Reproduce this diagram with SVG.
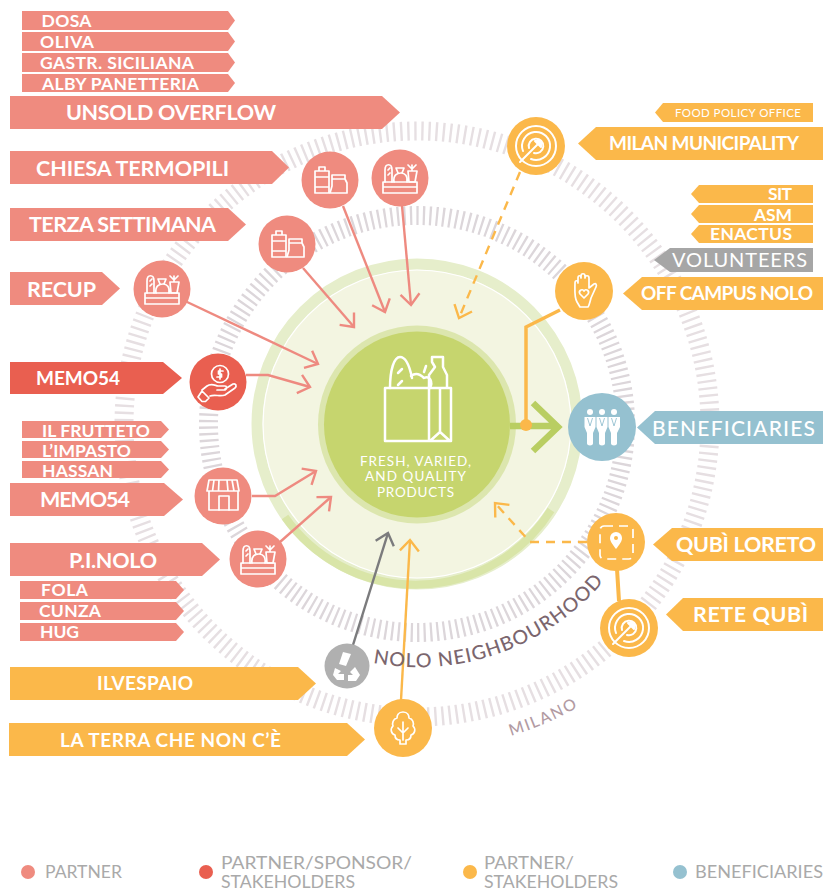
<svg xmlns="http://www.w3.org/2000/svg" xmlns:xlink="http://www.w3.org/1999/xlink" width="823" height="888" viewBox="0 0 823 888">
<style>
text{font-family:Lato,"Liberation Sans",sans-serif}
.pk{fill:#ef8b7f}.rd{fill:#e95f50}.yl{fill:#fbb84a}.bl{fill:#95c1d0}.gy{fill:#a6a6a6}.lg{fill:#b0b0b0}
.t{fill:#fff;font-weight:700}
.t17{font-size:17.500px}.t21{font-size:19px}.t23{font-size:21.500px}
.r{fill:#fff;font-weight:400}
.leg{fill:#a9a9a9;font-size:17px;font-weight:400}
.ic{fill:none;stroke:#fff;stroke-width:1.7;stroke-linejoin:round;stroke-linecap:round}
.ln{fill:none;stroke-width:2.4}
.cp{stroke:#ee8a80}.cy{stroke:#fbb84a}.cg{stroke:#7b7b7d}
.hp{marker-end:url(#mp)}.hy{marker-end:url(#my)}.hg{marker-end:url(#mg)}
.ds{stroke-dasharray:9 7}
</style>
<defs>
<marker id="mp" markerUnits="userSpaceOnUse" markerWidth="30" markerHeight="30" viewBox="-15 -15 30 30" refX="0" refY="0" orient="auto"><path d="M-11,-9.5 L0,0 L-11,9.5" fill="none" stroke="#ee8a80" stroke-width="2.4"/></marker>
<marker id="my" markerUnits="userSpaceOnUse" markerWidth="30" markerHeight="30" viewBox="-15 -15 30 30" refX="0" refY="0" orient="auto"><path d="M-11,-9.5 L0,0 L-11,9.5" fill="none" stroke="#fbb84a" stroke-width="2.4"/></marker>
<marker id="mg" markerUnits="userSpaceOnUse" markerWidth="30" markerHeight="30" viewBox="-15 -15 30 30" refX="0" refY="0" orient="auto"><path d="M-11,-9.5 L0,0 L-11,9.5" fill="none" stroke="#7b7b7d" stroke-width="2.4"/></marker>
<g id="crate" class="ic"><path d="M-17,4H17V15H-17ZM-17,9H17"/><path d="M-15,4V-8C-15,-15 -8,-15 -8,-8V4"/><path d="M-12,-8L-10,-10M-12,-3L-10,-5"/><path d="M-6,4C-7,-3 -3,-5 1,-5C5,-5 8,-2 7,4M-2,-5L-4,-10H4L2,-5"/><path d="M8,-7H17L15,4H9ZM12,-7V-13M12,-9L8,-13M12,-9L16,-13"/></g>
<g id="jars" class="ic"><path d="M-15,-9H-1V13H-15ZM-15,-3H-1M-15,7H-1M-11,-9V-13H-5V-9"/><path d="M2,-5H15V-1L17,3V13H0L2,6V-1ZM2,-1H15"/></g>
<g id="target" class="ic" style="stroke-width:2"><circle r="20"/><path d="M-5,13A14,14 0 1 0 -13,5"/><path d="M-2,7A7.300,7.300 0 1 0 -7,2"/><path d="M-16,16L3,-3"/><path d="M-1,-5L5,-5L5,1Z" fill="#fff"/></g>
</defs>

<g id="rings" fill="none">
<circle cx="417" cy="424" r="293" stroke="#e6dfe2" stroke-width="19" stroke-dasharray="2.4 4.7"/>
<circle cx="417" cy="424" r="208.500" stroke="#dcd6da" stroke-width="19" stroke-dasharray="2.3 4.2"/>
<circle cx="417" cy="424" r="160" fill="#f3f5e1" stroke="#e6eecb" stroke-width="11"/>
<path d="M285,517A160,160 0 0 0 551,510" stroke="#d9e5a8" stroke-width="8"/>
<circle cx="417" cy="424" r="154" stroke="#fff" stroke-width="1.2"/>
<circle cx="417" cy="424.500" r="99" fill="#dce6ae"/>
<circle cx="417" cy="424.500" r="93" fill="#c6d56e"/>
<path id="nolo" d="M373,663A243,243 0 0 0 615,567" />
<path id="mil" d="M511,736A326,326 0 0 0 590,700" />
</g>

<g id="connectors">
<path class="ln cp hp" d="M343,206L385,312"/>
<path class="ln cp hp" d="M402,206L411,305"/>
<path class="ln cp hp" d="M303,268L354,327"/>
<path class="ln cp hp" d="M185,301L318,364"/>
<path class="ln cp hp" d="M246,375H268L310,387"/>
<path class="ln cp hp" d="M252,496H275L316,471"/>
<path class="ln cp hp" d="M280,542L331,497"/>
<path class="ln cg hg" d="M353,645L388,533"/>
<path class="ln cy hy" d="M401,700L410,540"/>
<path class="ln cy ds hy" d="M520,172L459,318"/>
<path class="ln cy" style="stroke-width:3.5" d="M560,310L526,327V425"/>
<path fill="none" stroke="#b9ce62" stroke-width="6.5" d="M510,426H558M533,403L558,427L533,451"/>
<circle cx="526" cy="425" r="6" class="yl"/>
<path class="ln cy ds hy" d="M587,542H530L495,503"/>
<path class="ln cy" style="stroke-width:4" d="M617,569L619,601"/>
</g>

<g id="center">
<g class="ic" style="stroke-width:2.5"><path d="M385,388H451V441H385ZM429,388V441M440,388V432M430,441L440,432L450,441"/><path d="M390,388C390,370 394,357 400,357C407,357 410,368 412,378"/><path d="M398,373L402,369M398,385L402,381"/><path d="M411,376C416,372 420,374 424,378C430,375 433,382 430,388M424,372L426,366"/><path d="M429,387V375L435,367L432,362V357H443V367L447,375V387"/></g>
<text class="r" x="360" y="466" font-size="13.500" textLength="111">FRESH, VARIED,</text>
<text class="r" x="365" y="481" font-size="13.500" textLength="101">AND QUALITY</text>
<text class="r" x="377" y="497" font-size="13.500" textLength="77">PRODUCTS</text>
</g>

<g id="ring-labels">
<text font-size="19.500" fill="#7b666e" font-weight="500" letter-spacing="1.1"><textPath xlink:href="#nolo" href="#nolo">NOLO NEIGHBOURHOOD</textPath></text>
<text font-size="16" fill="#b29ba3" font-weight="500" letter-spacing="1.8"><textPath xlink:href="#mil" href="#mil">MILANO</textPath></text>
</g>

<g id="n-chiesa"><circle class="pk" cx="330" cy="180" r="28.500"/><use href="#jars" x="330" y="180"/></g>
<g id="n-veg1"><circle class="pk" cx="400" cy="178" r="28.500"/><use href="#crate" x="400" y="178"/></g>
<g id="n-terza"><circle class="pk" cx="287" cy="244" r="28.500"/><use href="#jars" x="287" y="244"/></g>
<g id="n-recup"><circle class="pk" cx="162" cy="289" r="28.500"/><use href="#crate" x="162" y="289"/></g>
<g id="n-memo-red"><circle class="rd" cx="218" cy="382" r="28.500"/>
<g class="ic"><circle cx="220" cy="374" r="8.500"/><path d="M220,369V379M223,371H218.500V374H221.500V377H217"/><path d="M202,390L207,386C211,383 214,385 218,386H225C227,386 227,389 225,390H217M225,389L233,384C236,383 237,386 235,388L225,395C220,397 215,394 210,396"/><path d="M202,391L209,398L205.500,401.500L202,401.500L198,397Z"/></g></g>
<g id="n-shop"><circle class="pk" cx="223" cy="496" r="28.500"/>
<g class="ic"><path d="M209,480H237L239,491H207ZM209,491V510H238V491M214,480L212.500,491M219,480L218.500,491M227,480L228,491M232,480L234,491"/><path d="M219,510V496H229V510"/></g></g>
<g id="n-pinolo"><circle class="pk" cx="258" cy="559" r="28.500"/><use href="#crate" x="258" y="559"/></g>
<g id="n-gray"><circle class="lg" cx="347" cy="666" r="22.500"/>
<path d="M343,652L351,654L346,666L339,664ZM335,668L341,671L338,674H344V680H337L333,675ZM350,672L355,667L360,675L356,681H348V675H353Z" fill="#fff"/></g>
<g id="n-leaf"><circle class="yl" cx="403" cy="728" r="29"/>
<g class="ic"><path d="M403,712C398,712 397,716 397,718C393,719 392,723 393,726C390,729 391,734 395,735C395,739 398,740 400,740V744H406V740C408,740 411,739 411,735C415,734 416,729 413,726C414,723 413,719 409,718C409,716 408,712 403,712Z"/><path d="M403,722V740M403,733L398,728M403,733L408,728"/></g></g>
<g id="n-milan"><circle class="yl" cx="536" cy="146" r="29"/><use href="#target" x="536" y="146"/></g>
<g id="n-offcampus"><circle class="yl" cx="584" cy="291" r="29"/>
<g class="ic"><path d="M577,302C574,297 575,290 575,283C575,280 578,280 578,283V278C578,275 581,275 581,278V276C581,273 585,273 585,276V278C585,275 589,275 589,278V288L594,284C596,283 597,285 596,287L591,298C590,302 589,306 588,307H580Z"/><path d="M584,298L580,294C578,291 582,288 584,291C586,288 590,291 588,294Z"/></g></g>
<g id="n-benef"><circle class="bl" cx="602" cy="427" r="34"/>
<g fill="#fff"><circle cx="590" cy="412" r="3"/><circle cx="602" cy="412" r="3"/><circle cx="614" cy="412" r="3"/>
<path d="M584.500,417H595.500V427L593,433V443.500C593,446 587,446 587,443.500V433L584.500,427Z"/><path d="M596.500,417H607.500V427L605,433V443.500C605,446 599,446 599,443.500V433L596.500,427Z"/><path d="M608.500,417H620V427L617,433V443.500C617,446 611,446 611,443.500V433L608.500,427Z"/></g>
<path d="M587.500,418L590,426L592.500,418M599.500,418L602,426L604.500,418M611.500,418L614,426L616.500,418" fill="none" stroke="#95c1d0" stroke-width="0.9"/></g>
<g id="n-qubi"><circle class="yl" cx="616" cy="542" r="29"/>
<rect x="600" y="526" width="33" height="33" rx="4" fill="none" stroke="#fff" stroke-width="1.700" stroke-dasharray="9 6"/>
<path d="M616,549C612,544 610,541 610,538A6,6 0 0 1 622,538C622,541 620,544 616,549Z" fill="#fff"/><circle cx="616" cy="538" r="2" class="yl"/></g>
<g id="n-rete"><circle class="yl" cx="629" cy="628" r="29"/><use href="#target" x="629" y="628"/></g>

<g id="l-dosa"><path class="pk" d="M22,11H228L235,20.500L228,30H22Z"/><text class="t t17" x="41.500" y="27" textLength="50">DOSA</text></g>
<g id="l-oliva"><path class="pk" d="M22,32H228L235,41.500L228,51H22Z"/><text class="t t17" x="40" y="48" textLength="54">OLIVA</text></g>
<g id="l-gastr"><path class="pk" d="M22,53H228L235,62.500L228,72H22Z"/><text class="t t17" x="40" y="68.500" textLength="154">GASTR. SICILIANA</text></g>
<g id="l-alby"><path class="pk" d="M22,74H228L235,83L228,92H22Z"/><text class="t t17" x="42" y="90" textLength="157">ALBY PANETTERIA</text></g>
<g id="l-unsold"><path class="pk" d="M10,96H382L400,112.500L382,129H10Z"/><text class="t t23" x="66" y="120" textLength="210">UNSOLD OVERFLOW</text></g>
<g id="l-chiesa"><path class="pk" d="M10,151H272L289,167.500L272,184H10Z"/><text class="t t23" x="36" y="176" textLength="193">CHIESA TERMOPILI</text></g>
<g id="l-terza"><path class="pk" d="M10,208H228L246,224.500L228,241H10Z"/><text class="t t23" x="29" y="232" textLength="187">TERZA SETTIMANA</text></g>
<g id="l-recup"><path class="pk" d="M10,272H102L120,288.500L102,305H10Z"/><text class="t t23" x="27" y="297" textLength="69">RECUP</text></g>
<g id="l-memo-red"><path class="rd" d="M10,362H163L182,378L163,394H10Z"/><text class="t t21" x="36" y="385" textLength="84">MEMO54</text></g>
<g id="l-frutteto"><path class="pk" d="M22,421H161L169,429.500L161,438H22Z"/><text class="t t17" x="42" y="437" textLength="108">IL FRUTTETO</text></g>
<g id="l-impasto"><path class="pk" d="M22,441H161L169,449.500L161,458H22Z"/><text class="t t17" x="42" y="457" textLength="89">L’IMPASTO</text></g>
<g id="l-hassan"><path class="pk" d="M22,461H161L169,469.500L161,478H22Z"/><text class="t t17" x="42" y="477" textLength="71">HASSAN</text></g>
<g id="l-memo"><path class="pk" d="M10,483H164L183,499.500L164,516H10Z"/><text class="t t23" x="40" y="507" textLength="90">MEMO54</text></g>
<g id="l-pinolo"><path class="pk" d="M10,543H202L220,559.500L202,576H10Z"/><text class="t t23" x="69" y="568" textLength="88">P.I.NOLO</text></g>
<g id="l-fola"><path class="pk" d="M20,581H176L184,590L176,599H20Z"/><text class="t t17" x="41" y="596" textLength="47">FOLA</text></g>
<g id="l-cunza"><path class="pk" d="M20,602H176L184,611L176,620H20Z"/><text class="t t17" x="39" y="617" textLength="62">CUNZA</text></g>
<g id="l-hug"><path class="pk" d="M20,623H176L184,632L176,641H20Z"/><text class="t t17" x="40" y="638" textLength="39">HUG</text></g>
<g id="l-vespaio"><path class="yl" d="M10,667H298L316,683.500L298,700H10Z"/><text class="t" font-size="19" x="97" y="690" textLength="96">ILVESPAIO</text></g>
<g id="l-terra"><path class="yl" d="M9,723H347L365,739.500L347,756H9Z"/><text class="t" font-size="19" x="60" y="747" textLength="221">LA TERRA CHE NON C’È</text></g>
<g id="l-food"><path class="yl" d="M655,112.500L663,103H813V122H663Z"/><text class="r" font-size="11.500" x="675" y="117" textLength="126">FOOD POLICY OFFICE</text></g>
<g id="l-milan"><path class="yl" d="M578,143.500L596,127H823V160H596Z"/><text class="t t21" x="609" y="150" textLength="190">MILAN MUNICIPALITY</text></g>
<g id="l-sit"><path class="yl" d="M691,194L699,185H813V203H699Z"/><text class="t t17" x="768" y="200" textLength="24">SIT</text></g>
<g id="l-asm"><path class="yl" d="M691,214L699,205H813V223H699Z"/><text class="t t17" x="754" y="221" textLength="38">ASM</text></g>
<g id="l-enactus"><path class="yl" d="M691,234L699,225H813V243H699Z"/><text class="t t17" x="710" y="240" textLength="82">ENACTUS</text></g>
<g id="l-volunteers"><path class="gy" d="M654,260L670,248H813V272H670Z"/><text class="r" font-size="20" x="672" y="267" textLength="135">VOLUNTEERS</text></g>
<g id="l-offcampus"><path class="yl" d="M623,293.500L642,277H823V310H642Z"/><text class="t t21" x="641" y="300" textLength="172">OFF CAMPUS NOLO</text></g>
<g id="l-benef"><path class="bl" d="M637,427.500L655,411H823V444H655Z"/><text x="652" y="436" font-size="21" fill="#fff" font-weight="500" textLength="163">BENEFICIARIES</text></g>
<g id="l-qubi"><path class="yl" d="M653,544.500L672,528H823V561H672Z"/><text class="t t23" x="676" y="552" textLength="140">QUBÌ LORETO</text></g>
<g id="l-rete"><path class="yl" d="M666,614.500L683,598H823V631H683Z"/><text class="t t23" x="693" y="622" textLength="115">RETE QUBÌ</text></g>

<g id="legend">
<circle class="pk" cx="28" cy="872" r="7"/><text class="leg" x="45" y="878" textLength="77" lengthAdjust="spacingAndGlyphs">PARTNER</text>
<circle class="rd" cx="206" cy="872" r="7"/><text class="leg" x="221" y="869" textLength="191" lengthAdjust="spacingAndGlyphs">PARTNER/SPONSOR/</text><text class="leg" x="221" y="888" textLength="134" lengthAdjust="spacingAndGlyphs">STAKEHOLDERS</text>
<circle class="yl" cx="470" cy="872" r="7"/><text class="leg" x="484" y="869" textLength="90" lengthAdjust="spacingAndGlyphs">PARTNER/</text><text class="leg" x="484" y="888" textLength="134" lengthAdjust="spacingAndGlyphs">STAKEHOLDERS</text>
<circle class="bl" cx="680" cy="872" r="7"/><text class="leg" x="695" y="878" textLength="128" lengthAdjust="spacingAndGlyphs">BENEFICIARIES</text>
</g>
</svg>
